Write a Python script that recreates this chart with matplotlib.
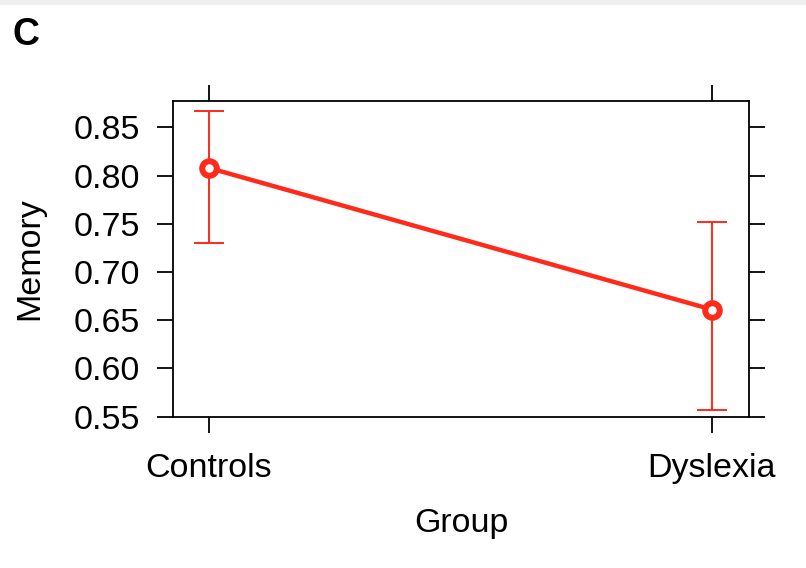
import matplotlib
matplotlib.use("Agg")
import matplotlib.pyplot as plt
from matplotlib.patches import Rectangle

plt.rcParams['font.family'] = ['Liberation Sans', 'DejaVu Sans']

groups = ["Controls", "Dyslexia"]
memory_mean = [0.808, 0.661]
ci_lower = [0.730, 0.557]
ci_upper = [0.867, 0.752]
y_ticks = [0.55, 0.60, 0.65, 0.70, 0.75, 0.80, 0.85]

W, H = 806, 568
fig = plt.figure(figsize=(W / 100, H / 100), dpi=100)
fig.patches.append(Rectangle((0, 1 - 5 / H), 1, 5 / H, transform=fig.transFigure,
                             facecolor="#efefef", edgecolor="none"))

left, right, top, bottom = 173, 749, 101, 417
ax = fig.add_axes([left / W, 1 - bottom / H, (right - left) / W, (bottom - top) / H])

xpos = [1, 2]
red = "#ff2a1a"
err_lo = [m - l for m, l in zip(memory_mean, ci_lower)]
err_hi = [u - m for m, u in zip(memory_mean, ci_upper)]
ax.errorbar(xpos, memory_mean, yerr=[err_lo, err_hi], fmt="none", ecolor=red,
            elinewidth=1.4, capsize=10.5, capthick=1.4, zorder=2)
ax.plot(xpos, memory_mean, color=red, lw=3.2, zorder=3)
ax.plot(xpos, memory_mean, linestyle="none", marker="o", ms=10.5, mfc="white",
        mec=red, mew=4.3, zorder=4)

ax.set_xlim(1 - 36 / 503, 2 + 37 / 503)
ax.set_ylim(0.5495, 0.8775)
ax.set_xticks(xpos)
ax.set_xticklabels(groups)
ax.set_yticks(y_ticks)
ax.set_yticklabels([f"{v:.2f}" for v in y_ticks])

for s in ax.spines.values():
    s.set_linewidth(1.3)
ax.tick_params(axis="both", direction="out", length=11.5, width=1.3, labelsize=24.5)
ax.tick_params(axis="y", right=True, pad=12)
ax.tick_params(axis="x", top=True, pad=14.5)

fig.text(30 / W, 1 - 259 / H, "Memory", fontsize=24.5, rotation=90,
         ha="center", va="center")
fig.text(461 / W, 1 - 532 / H, "Group", fontsize=24.5, ha="center", va="baseline")

fig.text(12 / W, 1 - 45 / H, "C", fontsize=27, fontweight="bold", va="baseline", ha="left")

fig.savefig("out.png", dpi=100)
